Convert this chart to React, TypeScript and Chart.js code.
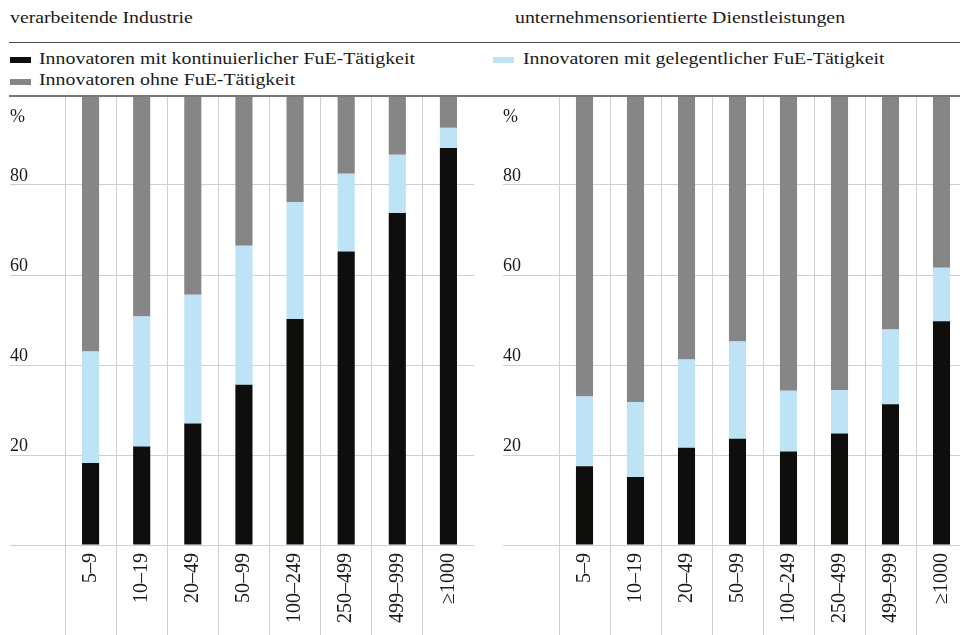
import React, { useEffect, useRef } from 'react';
import { Chart, registerables } from 'chart.js';

Chart.register(...registerables);

// ---------- data ----------
const categories = ['5–9', '10–19', '20–49', '50–99', '100–249', '250–499', '499–999', '≥1000'];
const panelTitles = ['verarbeitende Industrie', 'unternehmensorientierte Dienstleistungen'];
const seriesLabels = [
  'Innovatoren mit kontinuierlicher FuE-Tätigkeit',
  'Innovatoren mit gelegentlicher FuE-Tätigkeit',
  'Innovatoren ohne FuE-Tätigkeit',
];
const unitLabel = '%';
const yMin = 0;
const yMax = 100;
const yStep = 20;

const industryContinuous = [18.2, 21.9, 27.0, 35.6, 50.2, 65.2, 73.8, 88.2];
const industryOccasional = [24.8, 28.9, 28.6, 30.9, 26.0, 17.3, 12.9, 4.5];
const industryWithout = [57.0, 49.2, 44.4, 33.5, 23.8, 17.5, 13.3, 7.3];

const servicesContinuous = [17.5, 15.1, 21.6, 23.6, 20.8, 24.8, 31.3, 49.7];
const servicesOccasional = [15.5, 16.7, 19.6, 21.6, 13.5, 9.6, 16.6, 11.9];
const servicesWithout = [67.0, 68.2, 58.8, 54.8, 65.7, 65.6, 52.1, 38.4];

// ---------- styles ----------
const FONT = "'Liberation Serif', 'Times New Roman', Times, serif";
const TEXT = '#1a1a1a';
const GRID = '#cfcfcf';
const C_BLACK = '#0e0e0c';
const C_BLUE = '#bee3f7';
const C_GRAY = '#858685';
const seriesColors = [C_BLACK, C_BLUE, C_GRAY];

const CANVAS_TOP = 90;
const CANVAS_W = 465;
const CANVAS_H = 545;

type PanelProps = {
  left: number;
  yAxisWidth: number;
  series: number[][];
};

function Panel({ left, yAxisWidth, series }: PanelProps) {
  const ref = useRef<HTMLCanvasElement | null>(null);

  useEffect(() => {
    if (!ref.current) return;
    const unitPlugin = {
      id: 'unitLabel',
      afterDraw(chart: any) {
        const { ctx, chartArea, scales } = chart;
        ctx.save();
        ctx.font = `18px ${FONT}`;
        ctx.fillStyle = TEXT;
        ctx.textAlign = 'left';
        ctx.textBaseline = 'alphabetic';
        ctx.fillText(unitLabel, scales.y.left, chartArea.top + 27);
        ctx.restore();
      },
    };
    const chart = new Chart(ref.current, {
      type: 'bar',
      data: {
        labels: categories,
        datasets: series.map((d, i) => ({
          label: seriesLabels[i],
          data: d,
          backgroundColor: seriesColors[i],
          borderWidth: 0,
          categoryPercentage: 1,
          barPercentage: 0.335,
        })),
      },
      options: {
        responsive: false,
        animation: false,
        devicePixelRatio: 1,
        layout: { padding: { top: 5, right: 1, left: 0, bottom: 0 } },
        plugins: {
          legend: { display: false },
          tooltip: { enabled: false },
          title: { display: false },
        },
        scales: {
          x: {
            stacked: true,
            offset: true,
            border: { display: false },
            grid: {
              offset: true,
              drawOnChartArea: true,
              drawTicks: true,
              tickLength: 90,
              lineWidth: 1,
              color: (ctx: any) => (ctx.type === 'tick' ? GRID : 'rgba(0,0,0,0)'),
            },
            ticks: {
              autoSkip: false,
              minRotation: 90,
              maxRotation: 90,
              padding: -82,
              color: TEXT,
              font: { family: FONT, size: 20 },
            },
            afterFit: (scale: any) => {
              scale.height = 90;
              scale.paddingLeft = 0;
              scale.paddingRight = 0;
            },
          },
          y: {
            stacked: true,
            min: yMin,
            max: yMax,
            border: { display: false },
            grid: {
              color: GRID,
              lineWidth: 1,
              drawTicks: true,
              tickLength: yAxisWidth,
            },
            ticks: {
              stepSize: yStep,
              crossAlign: 'far',
              labelOffset: -9,
              color: TEXT,
              font: { family: FONT, size: 18 },
              callback: (v: any) => (v === yMin || v === yMax ? '' : String(v)),
            },
            afterFit: (scale: any) => {
              scale.width = yAxisWidth;
              scale.paddingTop = 0;
              scale.paddingBottom = 0;
            },
          },
        },
      },
      plugins: [unitPlugin],
    } as any);
    return () => chart.destroy();
  }, [left, yAxisWidth, series]);

  return (
    <canvas
      ref={ref}
      width={CANVAS_W}
      height={CANVAS_H}
      style={{
        position: 'absolute',
        left,
        top: CANVAS_TOP,
        width: CANVAS_W,
        height: CANVAS_H,
      }}
    />
  );
}

const SX = 1.13;

function Txt({ x, baseline, size, children }: { x: number; baseline: number; size: number; children: React.ReactNode }) {
  return (
    <div
      style={{
        position: 'absolute',
        left: x,
        top: baseline - 0.8375 * size,
        fontSize: size,
        lineHeight: 1,
        fontFamily: FONT,
        color: TEXT,
        whiteSpace: 'nowrap',
        transform: `scaleX(${SX})`,
        transformOrigin: '0 0',
      }}
    >
      {children}
    </div>
  );
}

function Box({ x, y, color }: { x: number; y: number; color: string }) {
  return <div style={{ position: 'absolute', left: x, top: y, width: 21, height: 6, background: color }} />;
}

const industrySeries = [industryContinuous, industryOccasional, industryWithout];
const servicesSeries = [servicesContinuous, servicesOccasional, servicesWithout];

export default function App() {
  return (
    <div
      style={{
        position: 'absolute',
        left: 0,
        top: 0,
        width: 960,
        height: 635,
        overflow: 'hidden',
        background: '#fff',
      }}
    >
      <Txt x={10} baseline={24} size={17.5}>{panelTitles[0]}</Txt>
      <Txt x={515} baseline={24} size={17.5}>{panelTitles[1]}</Txt>
      <div style={{ position: 'absolute', left: 9, top: 42, width: 951, height: 1, background: '#4a4a4a' }} />

      <Box x={10} y={57} color={C_BLACK} />
      <Txt x={39} baseline={65} size={17.6}>{seriesLabels[0]}</Txt>
      <Box x={493} y={57} color={C_BLUE} />
      <Txt x={523} baseline={65} size={17.6}>{seriesLabels[1]}</Txt>
      <Box x={10} y={79} color={C_GRAY} />
      <Txt x={39} baseline={86} size={17.6}>{seriesLabels[2]}</Txt>

      <Panel left={10} yAxisWidth={55} series={industrySeries} />
      <Panel left={503} yAxisWidth={56} series={servicesSeries} />

      <div style={{ position: 'absolute', left: 9, top: 95, width: 951, height: 2, background: '#777', zIndex: 2 }} />
    </div>
  );
}
